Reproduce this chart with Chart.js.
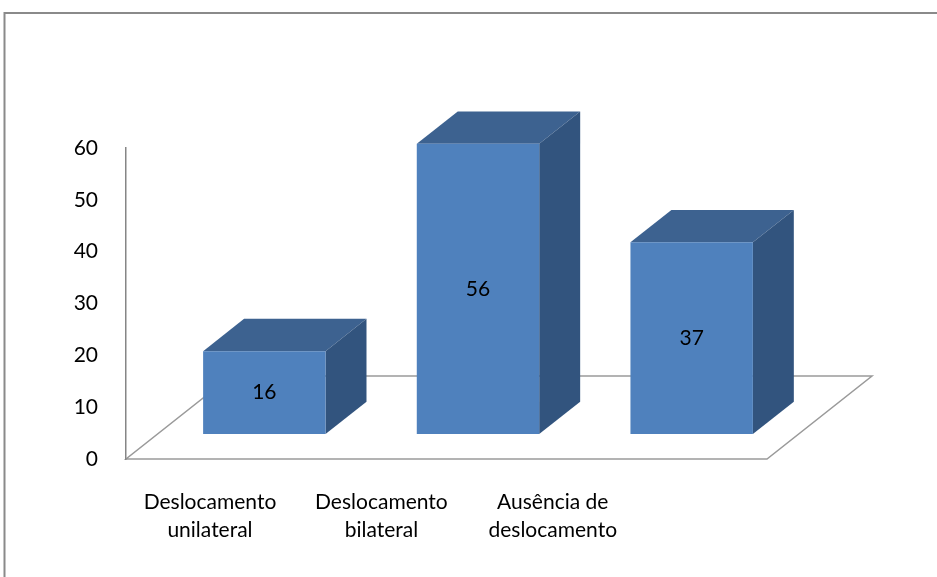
<!DOCTYPE html>
<html>
<head>
<meta charset="utf-8">
<script src="https://cdn.jsdelivr.net/npm/chart.js@4"></script>
<style>
  html, body { margin: 0; padding: 0; background: #fff; }
  canvas { display: block; }
</style>
</head>
<body>
<canvas id="chart" width="937" height="577"></canvas>
<script>
// categories (one entry per line of the label) and values
const categories = [["Deslocamento", "unilateral"], ["Deslocamento", "bilateral"], ["Ausência de", "deslocamento"]];
const values = [16, 56, 37];
const yTicks = [0, 10, 20, 30, 40, 50, 60];

// fake 3d: floor depth vector and where the bars sit inside it
const FLOOR_DX = 105, FLOOR_DY = -83;
const BAR_SHIFT = 0.3, BAR_DEPTH = 0.39;
// label axis range, so the category names sit under the front edge like in excel
const LAB_MIN = -0.49, LAB_MAX = 3.25;
const FONT = { family: "Lato, 'Open Sans', sans-serif", size: 21 };

const box3d = {
  id: 'box3d',
  beforeDraw(chart) {
    const ctx = chart.ctx;
    const { left, right } = chart.chartArea;
    const y0 = chart.scales.y.getPixelForValue(0);
    ctx.save();
    // outer frame
    ctx.strokeStyle = '#8a8a8a';
    ctx.lineWidth = 2;
    ctx.strokeRect(4.5, 13, 1000, 1000);
    // floor
    ctx.strokeStyle = '#9a9a9a';
    ctx.lineWidth = 1.5;
    ctx.beginPath();
    ctx.moveTo(left, y0);
    ctx.lineTo(right, y0);
    ctx.lineTo(right + FLOOR_DX, y0 + FLOOR_DY);
    ctx.lineTo(left + FLOOR_DX, y0 + FLOOR_DY);
    ctx.closePath();
    ctx.stroke();
    ctx.restore();
  },
  beforeDatasetsDraw(chart) {
    const ctx = chart.ctx;
    ctx.save();
    ctx.translate(FLOOR_DX * BAR_SHIFT, FLOOR_DY * BAR_SHIFT);
    const dx = FLOOR_DX * BAR_DEPTH, dy = FLOOR_DY * BAR_DEPTH;
    chart.getDatasetMeta(0).data.forEach(bar => {
      const { x, y, base, width } = bar.getProps(['x', 'y', 'base', 'width'], true);
      const l = x - width / 2, r = x + width / 2;
      // top face
      ctx.fillStyle = '#3d6290';
      ctx.beginPath();
      ctx.moveTo(l, y);
      ctx.lineTo(l + dx, y + dy);
      ctx.lineTo(r + dx, y + dy);
      ctx.lineTo(r, y);
      ctx.closePath();
      ctx.fill();
      // side face
      ctx.fillStyle = '#32547e';
      ctx.beginPath();
      ctx.moveTo(r, y);
      ctx.lineTo(r + dx, y + dy);
      ctx.lineTo(r + dx, base + dy);
      ctx.lineTo(r, base);
      ctx.closePath();
      ctx.fill();
    });
  },
  afterDatasetsDraw(chart) {
    const ctx = chart.ctx;
    const data = chart.data.datasets[0].data;
    ctx.font = FONT.size + 'px ' + FONT.family;
    ctx.fillStyle = '#000';
    ctx.textAlign = 'center';
    ctx.textBaseline = 'middle';
    chart.getDatasetMeta(0).data.forEach((bar, i) => {
      const { x, y, base } = bar.getProps(['x', 'y', 'base'], true);
      ctx.fillText(String(data[i]), x, (y + base) / 2);
    });
    ctx.restore();
  }
};

new Chart(document.getElementById('chart'), {
  type: 'bar',
  data: {
    labels: categories.map(c => c.join(' ')),
    datasets: [{
      data: values,
      backgroundColor: '#4f81bd',
      borderWidth: 0,
      categoryPercentage: 1,
      barPercentage: 0.573,
      clip: false,
      xAxisID: 'x',
      yAxisID: 'y'
    }]
  },
  options: {
    responsive: false,
    animation: false,
    layout: { padding: { top: 148, right: 170, bottom: 0, left: 0 } },
    plugins: { legend: { display: false }, tooltip: { enabled: false } },
    scales: {
      x: { type: 'category', display: false },
      xLab: {
        type: 'linear',
        position: 'bottom',
        offset: false,
        min: LAB_MIN,
        max: LAB_MAX,
        afterBuildTicks: scale => {
          scale.ticks = categories.map((c, i) => ({ value: i }));
          scale.min = LAB_MIN;
          scale.max = LAB_MAX;
        },
        afterFit: scale => { scale.height = 118; },
        grid: { display: false },
        border: { display: false },
        ticks: {
          autoSkip: false,
          maxRotation: 0,
          padding: 21,
          color: '#000',
          font: { ...FONT, lineHeight: 1.35 },
          callback: v => categories[v]
        }
      },
      y: {
        min: 0,
        max: 60,
        afterBuildTicks: scale => { scale.ticks = yTicks.map(v => ({ value: v })); },
        afterFit: scale => { scale.width = 126; },
        grid: { display: false },
        border: { display: true, color: '#868686', width: 1.5 },
        ticks: { padding: 20, color: '#000', font: FONT }
      }
    }
  },
  plugins: [box3d]
});
</script>
</body>
</html>
